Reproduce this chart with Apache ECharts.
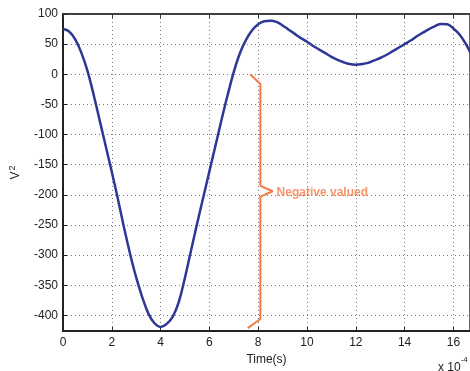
<!DOCTYPE html>
<html>
<head>
<meta charset="utf-8">
<script src="https://cdn.jsdelivr.net/npm/echarts@6/dist/echarts.min.js"></script>
<style>
html,body{margin:0;padding:0;background:#fff;}
#chart{width:470px;height:371px;}
</style>
</head>
<body>
<div id="chart"></div>
<script>
// Time (x 10^-4 s)
const timeX = [0,0.25,0.5,0.75,1.0,1.25,1.5,1.75,2.0,2.25,2.5,2.75,3.0,3.25,3.5,3.75,4.0,4.25,4.5,4.75,5.0,5.25,5.5,5.75,6.0,6.25,6.5,6.75,7.0,7.25,7.5,7.75,8.0,8.25,8.5,8.75,9.0,9.25,9.5,9.75,10.0,10.25,10.5,10.75,11.0,11.25,11.5,11.75,12.0,12.25,12.5,12.75,13.0,13.25,13.5,13.75,14.0,14.25,14.5,14.75,15.0,15.25,15.5,15.75,16.0,16.25,16.5,16.7];
// V^2 values
const v2 = [75,71,58,36,6,-33,-76,-119,-162,-207,-254,-298,-337,-370,-397,-413,-419,-414,-402,-377,-337,-292,-247,-204,-161,-118,-75,-34,4,35,57,73,83,88,89,87,81,74,67,60,54,47,41,35,29,24,20,17,16,17,19,23,27,32,38,44,50,56,63,69,75,80,83.5,83,76,66,51,36];
// Brace annotation (data units)
const braceX = [7.67,8.09,8.09,8.59,8.09,8.09,7.57];
const braceY = [0,-16,-185,-194,-203,-406,-421];
const braceLabel = 'Negative valued';
const braceLabelPoint = [8.59,-196];
const xTickLabels = ['0','2','4','6','8','10','12','14','16'];

const chart = echarts.init(document.getElementById('chart'));
const font = 'Liberation Sans, Arial, Helvetica, sans-serif';
const orange = '#f47a45';
chart.setOption({
  animation:false,
  grid:{left:62,right:-2,top:14,bottom:37,show:true,borderColor:'#333',borderWidth:1.5},
  xAxis:[{
    type:'value',min:0,max:16.68,minInterval:2,maxInterval:2,splitNumber:8,
    name:'Time(s)',nameLocation:'middle',nameGap:20,
    nameTextStyle:{fontFamily:font,fontSize:12,color:'#222',padding:[0,0,0,0]},
    axisLine:{onZero:false,lineStyle:{color:'#222',width:2}},
    axisTick:{inside:true,length:4,lineStyle:{color:'#222'}},
    axisLabel:{fontFamily:font,fontSize:12,color:'#222',margin:6,showMaxLabel:false,
      formatter:function(v){const i=xTickLabels.indexOf(String(v));return i>=0?xTickLabels[i]:'';}},
    splitLine:{show:true,lineStyle:{type:[1,3],color:'#777',width:1}}
  },{
    type:'value',position:'top',min:0,max:16.68,minInterval:2,maxInterval:2,splitNumber:8,
    axisLine:{show:true,onZero:false,lineStyle:{color:'#333',width:1.5}},
    axisTick:{show:true,inside:true,length:4,lineStyle:{color:'#333'}},
    axisLabel:{show:false},splitLine:{show:false}
  }],
  yAxis:{
    type:'value',min:-426,max:100,minInterval:50,maxInterval:50,splitNumber:10,
    name:'{v|V}{s|2}',nameLocation:'middle',nameGap:40,
    nameTextStyle:{fontFamily:font,fontSize:12,color:'#222',
      rich:{v:{fontFamily:font,fontSize:12,color:'#222'},s:{fontFamily:font,fontSize:9,color:'#222',verticalAlign:'top',padding:[0,0,6,1]}}},
    axisLine:{show:true,onZero:false,lineStyle:{color:'#222',width:2}},
    axisTick:{inside:true,length:4,lineStyle:{color:'#222'}},
    axisLabel:{fontFamily:font,fontSize:12,color:'#222',margin:5,showMinLabel:false},
    splitLine:{show:true,lineStyle:{type:[1,3],color:'#777',width:1}}
  },
  series:[{
    type:'line',data:timeX.map((x,i)=>[x,v2[i]]),showSymbol:false,smooth:0.4,
    lineStyle:{color:'#2e3796',width:2.5},clip:true
  },{
    type:'line',data:braceX.map((x,i)=>[x,braceY[i]]),showSymbol:false,
    lineStyle:{color:orange,width:2},z:3
  },{
    type:'scatter',data:[braceLabelPoint],symbolSize:0,
    label:{show:true,position:'right',distance:4,formatter:braceLabel,
      fontFamily:font,fontSize:12,fontWeight:'bold',color:orange}
  }],
  graphic:[{
    type:'text',left:438,top:356,
    style:{text:'{a|x 10}{b|-4}',fontFamily:font,
      rich:{a:{fontFamily:font,fontSize:12,fill:'#222',padding:[6,0,0,0]},b:{fontFamily:font,fontSize:8,fill:'#222',verticalAlign:'top'}}}
  }]
});
</script>
</body>
</html>
